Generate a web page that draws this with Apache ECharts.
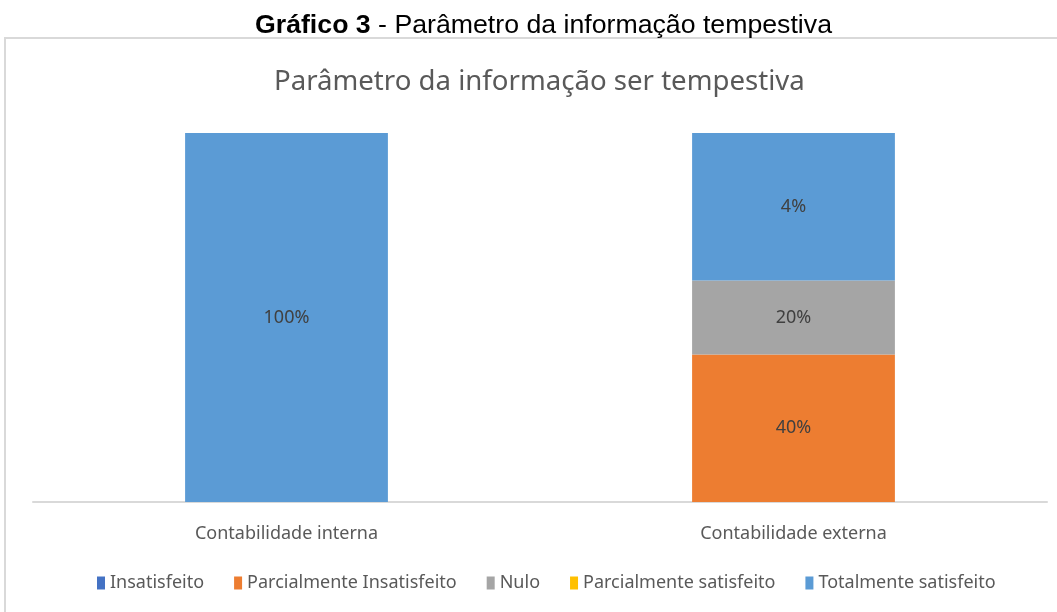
<!DOCTYPE html>
<html lang="pt">
<head>
    <meta charset="utf-8">
    <title>Gráfico 3</title>
    <style>
        html, body { margin: 0; padding: 0; background: #fff; }
        #chart { width: 1057px; height: 612px; }
    </style>
</head>
<body>
<div id="chart"></div>
<script src="https://cdn.jsdelivr.net/npm/echarts@6/dist/echarts.min.js"></script>
<script type="text/javascript">
    // dados
    var categories = ['Contabilidade interna', 'Contabilidade externa'];
    var seriesNames = ['Insatisfeito', 'Parcialmente Insatisfeito', 'Nulo', 'Parcialmente satisfeito', 'Totalmente satisfeito'];
    var colors = ['#4472C4', '#ED7D31', '#A5A5A5', '#FFC000', '#5B9BD5'];
    var insatisfeito = [0, 0];
    var parcialInsatisfeito = [0, 40];
    var nulo = [0, 20];
    var parcialSatisfeito = [0, 0];
    var totalSatisfeito = [100, 40];
    // rótulos como aparecem no original
    var labelTexts = [
        ['', ''],
        ['', '40%'],
        ['', '20%'],
        ['', ''],
        ['100%', '4%']
    ];
    var values = [insatisfeito, parcialInsatisfeito, nulo, parcialSatisfeito, totalSatisfeito];

    var fontMain = '"Noto Sans", sans-serif';
    var myChart = echarts.init(document.getElementById('chart'));

    var series = seriesNames.map(function (name, i) {
        return {
            name: name,
            type: 'bar',
            stack: 'total',
            barWidth: '40%',
            data: values[i],
            itemStyle: { color: colors[i] },
            label: {
                show: true,
                position: 'inside',
                color: '#404040',
                fontFamily: fontMain,
                fontSize: 18,
                formatter: function (p) {
                    return labelTexts[i][p.dataIndex];
                }
            }
        };
    });

    myChart.setOption({
        animation: false,
        color: colors,
        title: [
            {
                text: '{b|Gráfico 3} - Parâmetro da informação tempestiva',
                left: 250,
                top: 7,
                textStyle: {
                    fontFamily: '"Liberation Sans", Arial, sans-serif',
                    fontSize: 26.7,
                    fontWeight: 'normal',
                    color: '#000',
                    rich: {
                        b: { fontFamily: '"Liberation Sans", Arial, sans-serif', fontSize: 26.7, fontWeight: 'bold', color: '#000' }
                    }
                }
            },
            {
                text: 'Parâmetro da informação ser tempestiva',
                left: 269,
                top: 63,
                textStyle: {
                    fontFamily: fontMain,
                    fontSize: 27.6,
                    fontWeight: 'normal',
                    color: '#595959'
                }
            }
        ],
        graphic: [
            {
                type: 'rect',
                shape: { x: 5, y: 38, width: 1100, height: 700 },
                style: { fill: 'none', stroke: '#d9d9d9', lineWidth: 2 },
                silent: true
            }
        ],
        legend: {
            data: seriesNames,
            left: 92,
            top: 569,
            itemWidth: 8,
            itemHeight: 13,
            itemGap: 30,
            icon: 'rect',
            textStyle: { fontFamily: fontMain, fontSize: 18, color: '#595959' }
        },
        grid: { left: 33, right: 10, top: 133, bottom: 110, containLabel: false },
        xAxis: {
            type: 'category',
            data: categories,
            axisLine: { lineStyle: { color: '#d9d9d9', width: 2 } },
            axisTick: { show: false },
            axisLabel: { margin: 23, fontFamily: fontMain, fontSize: 18, color: '#595959' }
        },
        yAxis: {
            type: 'value',
            min: 0,
            max: 100,
            show: false,
            splitLine: { show: false }
        },
        series: series
    });
</script>
</body>
</html>
